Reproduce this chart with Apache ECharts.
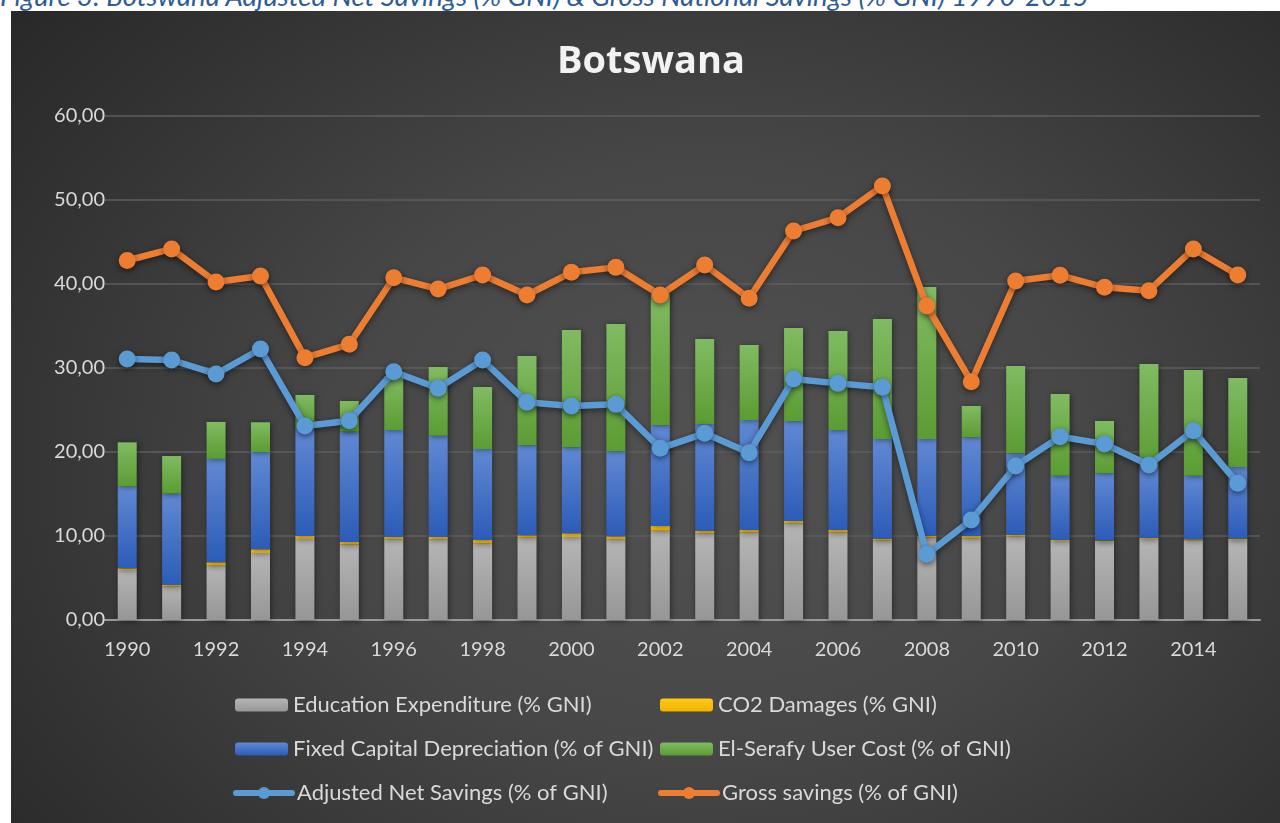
<!DOCTYPE html>
<html>
<head>
<meta charset="utf-8">
<script src="https://cdn.jsdelivr.net/npm/echarts@6/dist/echarts.min.js"></script>
<style>
    html, body { margin: 0; padding: 0; width: 1280px; height: 823px; overflow: hidden; background: #fff; }
    .caption { position: absolute; left: 0; top: -21px; font-family: Lato, sans-serif; font-style: italic; font-size: 27.5px; color: #2e5c96; white-space: nowrap; }
    .box { position: absolute; left: 11px; top: 11px; right: 0; bottom: 0;
        background: radial-gradient(ellipse 75% 90% at 55% 55%, #525252 0%, #474747 40%, #333333 75%, #262626 100%); }
    #main { position: absolute; left: 0; top: 0; width: 1280px; height: 823px; }
</style>
</head>
<body>
<div class="caption">Figure 3: Botswana Adjusted Net Savings (% GNI) &amp; Gross National Savings (% GNI) 1990-2015</div>
<div class="box"></div>
<div id="main"></div>
<script>
    // values
    const years = ['1990', '1991', '1992', '1993', '1994', '1995', '1996', '1997', '1998', '1999', '2000', '2001', '2002',
        '2003', '2004', '2005', '2006', '2007', '2008', '2009', '2010', '2011', '2012', '2013', '2014', '2015'];
    const education = [5.95, 3.97, 6.47, 7.97, 9.64, 8.97, 9.6, 9.6, 9.13, 9.8, 9.88, 9.6, 10.63,
        10.32, 10.4, 11.51, 10.4, 9.44, 9.8, 9.72, 9.92, 9.4, 9.29, 9.64, 9.44, 9.52];
    const co2 = [0.2, 0.2, 0.4, 0.45, 0.36, 0.32, 0.28, 0.28, 0.39, 0.28, 0.44, 0.36, 0.56,
        0.28, 0.31, 0.28, 0.31, 0.24, 0.24, 0.28, 0.2, 0.16, 0.15, 0.16, 0.16, 0.16];
    const depreciation = [9.76, 10.87, 12.31, 11.55, 13.0, 13.13, 12.74, 12.06, 10.84, 10.72, 10.24, 10.12, 11.98,
        12.73, 13.1, 11.9, 11.91, 11.87, 11.51, 11.75, 9.72, 7.62, 8.02, 8.4, 7.58, 8.53];
    const elSerafy = [5.24, 4.48, 4.4, 3.57, 3.79, 3.65, 6.38, 8.18, 7.38, 10.63, 13.96, 15.16, 15.83,
        10.12, 8.93, 11.07, 11.78, 14.28, 18.09, 3.73, 10.4, 9.72, 6.23, 12.28, 12.58, 10.6];
    const adjustedNet = [31.07, 30.95, 29.29, 32.26, 23.1, 23.73, 29.56, 27.58, 30.95, 25.91, 25.48, 25.67, 20.44,
        22.22, 19.92, 28.69, 28.17, 27.7, 7.82, 11.9, 18.33, 21.83, 20.95, 18.45, 22.54, 16.27];
    const grossSavings = [42.8, 44.17, 40.24, 40.95, 31.23, 32.82, 40.75, 39.4, 41.07, 38.69, 41.39, 41.98, 38.69,
        42.26, 38.29, 46.31, 47.9, 51.67, 37.38, 28.37, 40.36, 41.03, 39.6, 39.21, 44.17, 41.07];

    const names = [
        'Education Expenditure (% GNI)',
        'CO2 Damages (% GNI)',
        'Fixed Capital Depreciation (% of GNI)',
        'El-Serafy User Cost (% of GNI)',
        'Adjusted Net Savings (% of GNI)',
        'Gross savings (% of GNI)'
    ];

    const font = 'Lato, "Open Sans", sans-serif';

    function grad(top, bottom) {
        return {
            type: 'linear', x: 0, y: 0, x2: 0, y2: 1,
            colorStops: [{offset: 0, color: top}, {offset: 1, color: bottom}]
        };
    }

    function barSeries(name, data, color) {
        return {
            name: name,
            type: 'bar',
            stack: 'total',
            barWidth: 19,
            data: data,
            itemStyle: {
                color: color,
                shadowBlur: 6,
                shadowColor: 'rgba(0,0,0,0.45)',
                shadowOffsetX: 1,
                shadowOffsetY: 1
            }
        };
    }

    function lineSeries(name, data, color) {
        return {
            name: name,
            type: 'line',
            data: data,
            z: 5,
            symbol: 'circle',
            symbolSize: 17,
            lineStyle: {width: 6.5, color: color, cap: 'round', join: 'round',
                shadowBlur: 6, shadowColor: 'rgba(0,0,0,0.5)', shadowOffsetY: 2},
            itemStyle: {color: color, shadowBlur: 6, shadowColor: 'rgba(0,0,0,0.5)', shadowOffsetY: 2}
        };
    }

    function legendAt(name, left, top, isLine) {
        const lg = {
            data: [name],
            left: left,
            top: top,
            itemWidth: isLine ? 56 : 53,
            itemHeight: isLine ? 15 : 13,
            padding: 0,
            selectedMode: false,
            textStyle: {color: '#d9d9d9', fontSize: 22, fontFamily: font}
        };
        if (isLine) {
            lg.lineStyle = {width: 6, cap: 'round'};
        }
        return lg;
    }

    const chart = echarts.init(document.getElementById('main'), null, {renderer: 'canvas'});

    const option = {
        backgroundColor: 'transparent',
        animation: false,
        title: {
            text: 'Botswana',
            left: 552,
            top: 38,
            textStyle: {color: '#f2f2f2', fontSize: 38, fontWeight: 'bold', fontFamily: '"Open Sans", sans-serif'}
        },
        legend: [
            legendAt(names[0], 235, 694, false),
            legendAt(names[1], 660, 694, false),
            legendAt(names[2], 235, 738, false),
            legendAt(names[3], 660, 738, false),
            legendAt(names[4], 233, 782, true),
            legendAt(names[5], 658, 782, true)
        ],
        grid: {left: 105, right: 20, top: 116, bottom: 203},
        xAxis: {
            type: 'category',
            data: years,
            axisTick: {show: false},
            axisLine: {lineStyle: {color: '#9a9a9a', width: 2}},
            axisLabel: {interval: 1, color: '#d9d9d9', fontSize: 20, fontFamily: font, margin: 20}
        },
        yAxis: {
            type: 'value',
            min: 0,
            max: 60,
            interval: 10,
            axisLine: {show: false},
            axisTick: {show: false},
            splitLine: {lineStyle: {color: '#5e5e5e', width: 1.5}},
            axisLabel: {
                color: '#d9d9d9', fontSize: 20, fontFamily: font, margin: 0,
                formatter: v => v.toFixed(2).replace('.', ',')
            }
        },
        series: [
            barSeries(names[0], education, grad('#b5b5b5', '#969696')),
            barSeries(names[1], co2, grad('#ffc914', '#f0b400')),
            barSeries(names[2], depreciation, grad('#6189d3', '#2c5cb8')),
            barSeries(names[3], elSerafy, grad('#80bb62', '#5b9c33')),
            lineSeries(names[4], adjustedNet, '#5b9bd5'),
            lineSeries(names[5], grossSavings, '#ed7d31')
        ]
    };

    chart.setOption(option);
</script>
</body>
</html>
